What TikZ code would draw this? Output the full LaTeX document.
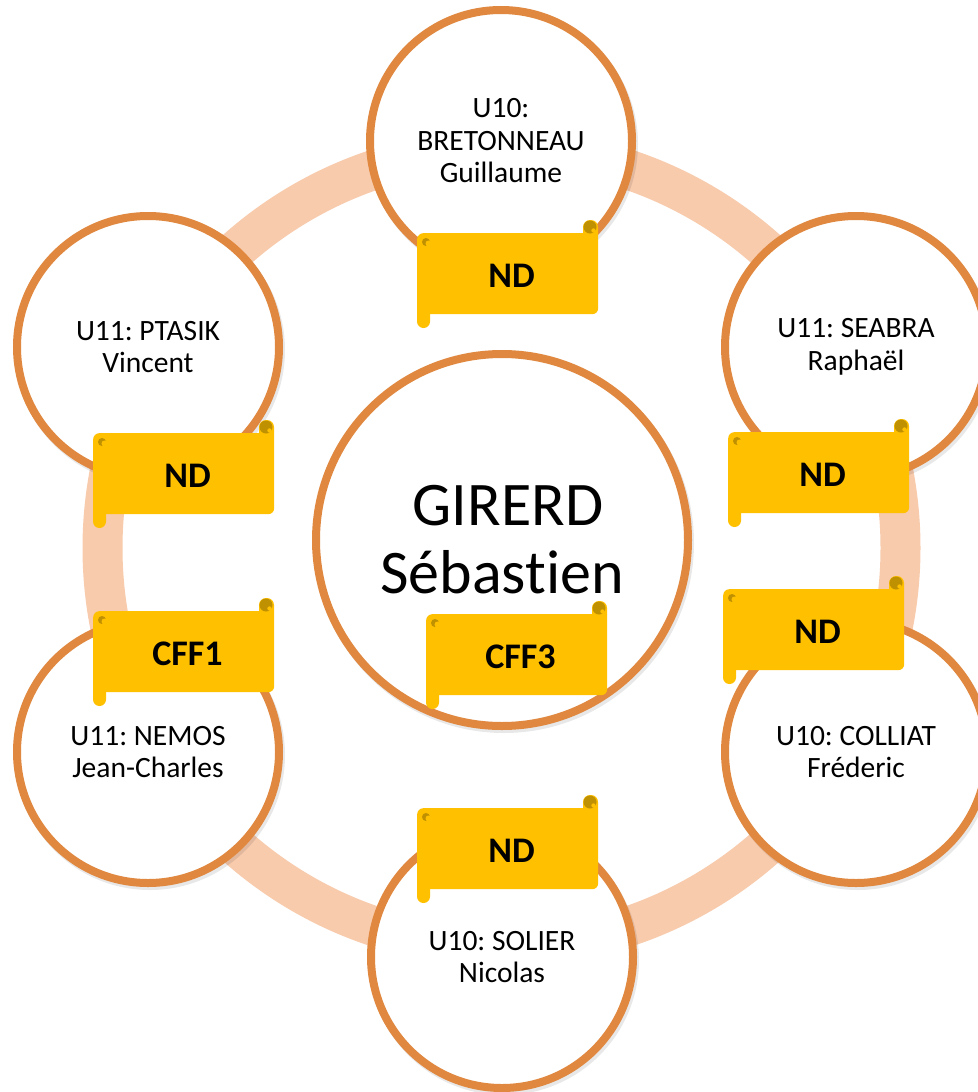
\documentclass[tikz,border=0pt]{standalone}
\usepackage{fontspec}
\setmainfont{Carlito}[Ligatures=NoCommon]
\frenchspacing
\definecolor{ringc}{HTML}{F8CBAD}
\definecolor{edgec}{HTML}{E0883F}
\definecolor{scrollc}{HTML}{FFC000}
\definecolor{rollc}{HTML}{BF9000}
\tikzset{
  person/.style={circle, draw=edgec, line width=8pt, fill=white,
    minimum size=262pt, inner sep=0pt, align=center,
    font=\fontsize{29.5}{32.5}\selectfont},
  chief/.style={person, minimum size=372pt, font=\fontsize{62}{68}\selectfont},
  shade/.style={fill=black, opacity=0.09},
  scrollbox/.style={rectangle, fill=scrollc, rounded corners=6pt,
    minimum width=181pt, minimum height=81pt, inner sep=0pt, anchor=north west},
  scrolltext/.style={font=\fontsize{36}{40}\selectfont\bfseries, inner sep=0pt}
}
\newcommand\myscroll[4]{%
  \fill[scrollc, rounded corners=6.5pt] (#2,#3+60) rectangle (#2+13,#3+95);
  \fill[scrollc, rounded corners=7pt] (#2+166,#3-13) rectangle (#2+181,#3+12);
  \node[scrollbox] (#1) at (#2,#3) {};
  \fill[rollc] (#2+173,#3-6) circle (6.5);
  \fill[scrollc] (#2+176.5,#3-2.5) circle (2.2);
  \fill[rollc] (#2+9,#3+9) circle (4);
  \fill[scrollc] (#2+11.5,#3+10.5) circle (3);
  \node[scrolltext] (#1t) at (#2+94.5,#3+42.5) {#4};
}
\begin{document}
\begin{tikzpicture}[x=1pt, y=-1pt]
\useasboundingbox (0,0) rectangle (977,1092);
\fill[white] (0,0) rectangle (977,1092);
% ring
\draw[ringc, line width=40pt] (501.5,548) circle (399);
% shadows
\foreach \cx/\cy in {501/141, 148/347, 856/347, 148/752, 856/752, 502/957}
  \fill[shade] (\cx+2,\cy+3) circle (135);
\fill[shade] (504,543) circle (190);
% circles
\node[person] (top) at (501,141) {U10:\\BRETONNEAU\\Guillaume};
\node[person] (ptasik) at (148,347) {U11: PTASIK\\Vincent};
\node[person] (seabra) at (856,347) {U11: SEABRA\\Raphaël};
\node[person] (nemos) at (148,752) {U11: NEMOS\\Jean-Charles};
\node[person] (colliat) at (856,752) {U10: COLLIAT\\Fréderic};
\node[person] (solier) at (502,957) {U10: SOLIER\\Nicolas};
\node[chief] (center) at (502,540) {\hspace*{12pt}GIRERD\\Sébastien};
% banners
\myscroll{btop}{417}{233}{ND}
\myscroll{bptasik}{93}{433}{ND}
\myscroll{bseabra}{728}{432}{ND}
\myscroll{bnemos}{93}{611}{CFF1}
\myscroll{bcenter}{426}{614}{CFF3}
\myscroll{bcolliat}{723}{589}{ND}
\myscroll{bsolier}{417}{808}{ND}
\end{tikzpicture}
\end{document}
